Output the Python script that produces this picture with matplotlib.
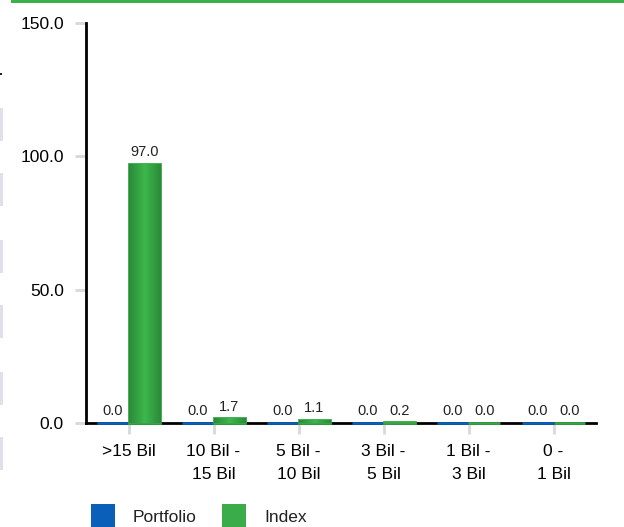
import numpy as np
import matplotlib
matplotlib.use("Agg")
import matplotlib.pyplot as plt
from matplotlib.colors import LinearSegmentedColormap
from matplotlib.patches import Rectangle

plt.rcParams['font.family'] = ['Liberation Sans', 'DejaVu Sans']

categories = [">15 Bil", "10 Bil -\n15 Bil", "5 Bil -\n10 Bil", "3 Bil -\n5 Bil", "1 Bil -\n3 Bil", "0 -\n1 Bil"]
portfolio = [0.0, 0.0, 0.0, 0.0, 0.0, 0.0]
index = [97.0, 1.7, 1.1, 0.2, 0.0, 0.0]
yticks = [0, 50, 100, 150]
series_names = ["Portfolio", "Index"]

blue = "#0a5fb8"
green = "#36a546"
green_cmap = LinearSegmentedColormap.from_list("g", ["#2b8a3a", "#3db84c", "#2b8a3a"])

fig = plt.figure(figsize=(6.24, 5.27), dpi=100)
ax = fig.add_axes([86/624, 1-423/527, 510/624, 400/527])

x = np.arange(len(categories))
w = 0.37
pb = ax.bar(x - w/2, portfolio, w, color=blue, edgecolor=blue, linewidth=2, zorder=6, clip_on=False)
ib = ax.bar(x + w/2, index, w, color=green, edgecolor=green, linewidth=2, zorder=6, clip_on=False)

# shaded look on the index bars
grad = np.linspace(0, 1, 64).reshape(1, -1)
for b in ib:
    if b.get_height() > 0.5:
        ax.imshow(grad, cmap=green_cmap, aspect="auto", zorder=7,
                  extent=(b.get_x(), b.get_x() + b.get_width(), 0, b.get_height()),
                  clip_path=b, clip_on=True)

for bars, vals in [(pb, portfolio), (ib, index)]:
    for b, v in zip(bars, vals):
        ax.annotate(f"{v:.1f}", (b.get_x() + b.get_width()/2, v), xytext=(0, 3.5),
                    textcoords="offset points", ha="center", va="bottom",
                    fontsize=10.5, color="#222222")

ax.set_xlim(-0.5, len(categories) - 0.5)
ax.set_ylim(0, 150)
ax.set_yticks(yticks)
ax.set_yticklabels([f"{t:.1f}" for t in yticks], fontsize=12.5)
ax.set_xticks(x)
ax.set_xticklabels(categories, fontsize=12.5, linespacing=1.7)
ax.tick_params(axis="y", length=8, width=2, color="#d8d8d8", pad=8)
ax.tick_params(axis="x", length=8, width=2, color="#d8d8d8", pad=7)
for s in ["top", "right"]:
    ax.spines[s].set_visible(False)
ax.spines["left"].set_linewidth(2)
ax.spines["bottom"].set_linewidth(2)

# legend at bottom
for xs, col, name in [(91, blue, series_names[0]), (222, "#3aad4a", series_names[1])]:
    fig.add_artist(Rectangle((xs/624, 0), 24/624, 23/527, transform=fig.transFigure, color=col, lw=0))
    fig.text((xs + 42)/624, 10/527, name, fontsize=12.5, va="center", ha="left", color="#222222")

# page decorations: green rule on top and grey tabs on the left edge
fig.add_artist(Rectangle((11/624, 1-3/527), 1, 3/527, transform=fig.transFigure, color="#3cb04a", lw=0))
for y0 in [108, 173, 240, 305, 372, 437]:
    fig.add_artist(Rectangle((0, 1-(y0+33)/527), 3/624, 33/527, transform=fig.transFigure, color="#e0e0ec", lw=0))
fig.add_artist(Rectangle((0, 1-75/527), 2/624, 2/527, transform=fig.transFigure, color="#222222", lw=0))

fig.savefig("out.png", dpi=100)
